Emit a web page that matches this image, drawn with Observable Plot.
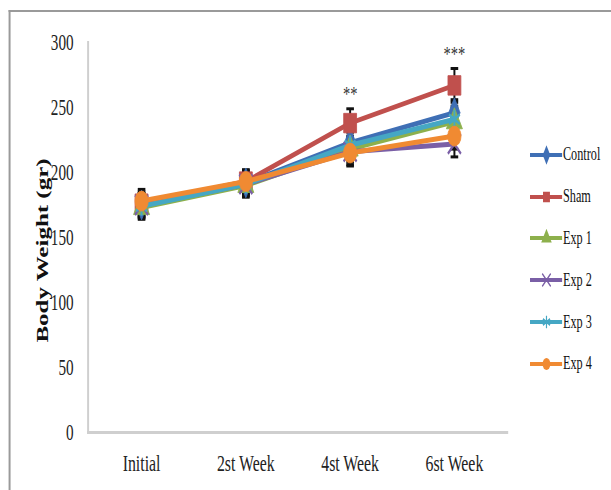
<!DOCTYPE html>
<html><head><meta charset="utf-8">
<script src="https://cdn.jsdelivr.net/npm/d3@7"></script>
<script src="https://cdn.jsdelivr.net/npm/@observablehq/plot@0.6"></script>
<style>
body{margin:0;background:#fff;overflow:hidden;}
#wrap{position:relative;width:926px;height:490px;overflow:hidden;font-family:"Liberation Serif","Times New Roman",serif;transform:scaleX(0.66);transform-origin:0 0;}
#frame{position:absolute;left:13px;top:10px;width:1000px;height:600px;border-left:3.8px solid #9a9a9a;border-top:2.5px solid #9a9a9a;}
#chart{position:absolute;left:0;top:0;}
#legend{position:absolute;left:803px;top:134px;}
.li{display:flex;align-items:center;height:41.8px;font-size:18.5px;color:#111;}
.li svg{margin-right:1px;}
</style></head>
<body><div id="wrap"><div id="frame"></div><div id="chart"></div><div id="legend"></div></div>
<script>
const weeks = ["Initial", "2st Week", "4st Week", "6st Week"];
const series = ["Control", "Sham", "Exp 1", "Exp 2", "Exp 3", "Exp 4"];
const colors = ["#3f6fb5", "#c0504d", "#8db04c", "#7a5fa6", "#45a7c4", "#f08a32"];
const symbols = ["diamond", "square", "triangle", "times", "asterisk", "circle"];
const control = [175, 192, 223, 246];
const sham    = [176, 193, 238, 267];
const exp1    = [173, 190, 218, 239];
const exp2    = [175, 191, 216, 222];
const exp3    = [174, 191, 221, 241];
const exp4    = [178, 193, 215, 228];
const errors  = [9, 9, 10, 10];
const shamErr = [9, 9, 11, 13];
const stars   = ["", "", "**", "***"];
const yTicks  = [0, 50, 100, 150, 200, 250, 300];

const values = [control, sham, exp1, exp2, exp3, exp4];
const rows = [];
series.forEach((s, i) => weeks.forEach((w, j) => rows.push({
  series: s, week: w, value: values[i][j],
  err: s === "Sham" ? shamErr[j] : errors[j]
})));
const notes = weeks.map((w, j) => ({week: w, value: sham[j] + shamErr[j], label: stars[j]})).filter(d => d.label);

const dash = {draw(ctx, size){ const w = Math.sqrt(size) / 2; ctx.moveTo(-w, 0); ctx.lineTo(w, 0); }};

const marks = [
  Plot.frame({anchor: "left", stroke: "#cfcfcf", strokeWidth: 3}),
  Plot.frame({anchor: "bottom", stroke: "#cfcfcf", strokeWidth: 3}),
  Plot.axisY({ticks: yTicks, tickSize: 0, tickPadding: 22, fontSize: 23, fill: "#222"}),
  Plot.axisX({tickSize: 0, tickPadding: 21, fontSize: 24, fill: "#222"}),
  Plot.ruleX(rows, {x: "week", y1: d => d.value - d.err, y2: d => d.value + d.err, stroke: "#111", strokeWidth: 3}),
  Plot.dot(rows, {x: "week", y: d => d.value + d.err, symbol: dash, r: 6.5, stroke: "#111", strokeWidth: 3}),
  Plot.dot(rows, {x: "week", y: d => d.value - d.err, symbol: dash, r: 6.5, stroke: "#111", strokeWidth: 3})
];
series.forEach((s, i) => {
  const data = rows.filter(d => d.series === s);
  marks.push(Plot.line(data, {x: "week", y: "value", stroke: colors[i], strokeWidth: 5}));
  const strokeSym = symbols[i] === "times" || symbols[i] === "asterisk";
  marks.push(Plot.dot(data, {x: "week", y: "value", symbol: symbols[i],
    r: s === "Sham" ? 11 : (symbols[i] === "circle" ? 10 : 9),
    fill: strokeSym ? "none" : colors[i], stroke: colors[i], strokeWidth: strokeSym ? 3 : 1}));
});
marks.push(Plot.text(notes, {x: "week", y: "value", text: "label", dy: -15, fontSize: 22, fill: "#333"}));
marks.push(Plot.text(["Body Weight (gr)"], {frameAnchor: "left", textAnchor: "middle", rotate: -90, dx: -69, dy: 13, fontSize: 25, fontWeight: "bold", fill: "#111"}));

const chart = Plot.plot({
  width: 926, height: 490,
  marginLeft: 133, marginRight: 158, marginTop: 42, marginBottom: 58,
  style: {fontFamily: "'Liberation Serif','Times New Roman',serif", background: "transparent"},
  x: {type: "point", domain: weeks, padding: 0.5, label: null},
  y: {domain: [0, 300], label: null},
  marks
});
document.getElementById("chart").appendChild(chart);

const leg = document.getElementById("legend");
const symMap = {diamond: d3.symbolDiamond, square: d3.symbolSquare, triangle: d3.symbolTriangle, times: d3.symbolX, asterisk: d3.symbolAsterisk, circle: d3.symbolCircle};
series.forEach((s, i) => {
  const div = document.createElement("div");
  div.className = "li";
  const svg = d3.create("svg").attr("width", 49).attr("height", 20);
  svg.append("line").attr("x1", 0).attr("x2", 49).attr("y1", 10).attr("y2", 10).attr("stroke", colors[i]).attr("stroke-width", 4);
  const strokeSym = symbols[i] === "times" || symbols[i] === "asterisk";
  svg.append("path").attr("transform", "translate(25,10)")
    .attr("d", d3.symbol(symMap[symbols[i]], 110)())
    .attr("fill", strokeSym ? "none" : colors[i]).attr("stroke", colors[i]).attr("stroke-width", strokeSym ? 1.8 : 0);
  div.appendChild(svg.node());
  const t = document.createElement("span"); t.textContent = s; div.appendChild(t);
  leg.appendChild(div);
});
</script></body></html>
